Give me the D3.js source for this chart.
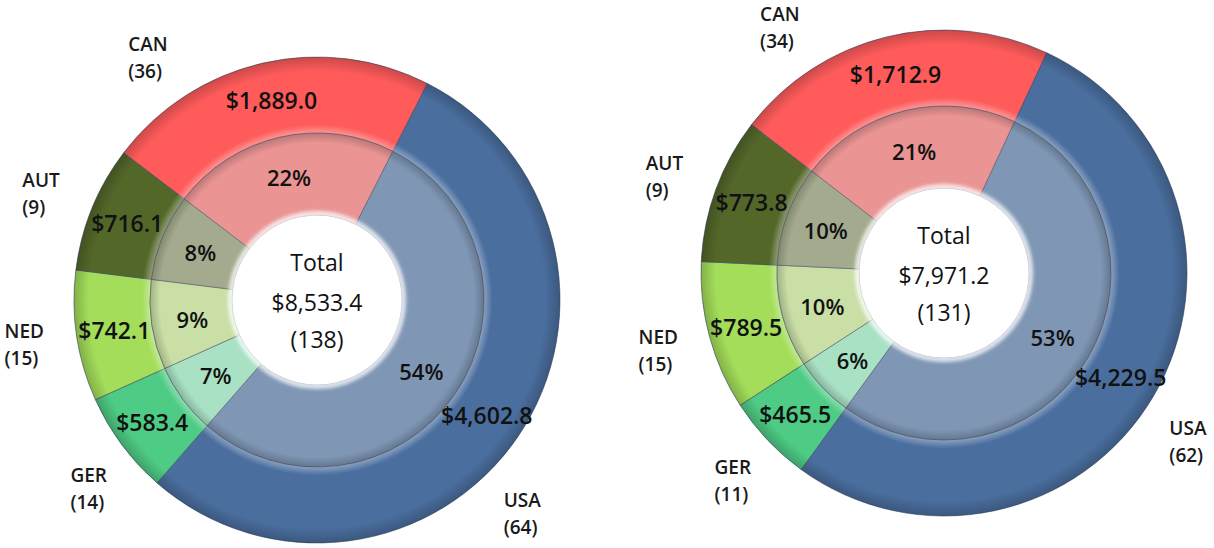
<!DOCTYPE html>
<html>
<head>
<meta charset="utf-8">
<script src="https://cdn.jsdelivr.net/npm/d3@7"></script>
<style>
  body { margin: 0; background: #fff; }
  svg { display: block; font-family: "Open Sans", "Noto Sans", sans-serif; }
</style>
</head>
<body>
<svg id="canvas"></svg>
<script>
// categories, in the order the slices run clockwise
const countries = ["USA", "GER", "NED", "AUT", "CAN"];

// left chart
const salesLeft = [4602.8, 583.4, 742.1, 716.1, 1889.0];
const countsLeft = [64, 14, 15, 9, 36];

// right chart
const salesRight = [4229.5, 465.5, 789.5, 773.8, 1712.9];
const countsRight = [62, 11, 15, 9, 34];

const outerColors = ["#4A6E9E", "#4ECB84", "#A3DD5A", "#536729", "#FF5B5B"];
const innerColors = ["#7F96B5", "#A9E1C4", "#C9DFA6", "#A4AA8D", "#EA9494"];

const W = 1214, H = 548;
const rHole = 85, rMid = 167, rOuter = 243;
const labelR = 296;

const fmtMoney = d3.format("$,.1f");
const fmtPct = d3.format(".0%");

const outerColor = d3.scaleOrdinal().domain(countries).range(outerColors);
const innerColor = d3.scaleOrdinal().domain(countries).range(innerColors);

const svg = d3.select("#canvas").attr("width", W).attr("height", H);
const defs = svg.append("defs");

// soft bevel for each ring: light at the inner edge, darker at the outer edge
function ringGradient(id, r0, r1) {
  const grad = defs.append("radialGradient")
    .attr("id", id)
    .attr("gradientUnits", "userSpaceOnUse")
    .attr("cx", 0).attr("cy", 0).attr("r", r1);
  const a = r0 / r1;
  const stops = [
    [0, "#fff", 0],
    [a, "#fff", 0.35],
    [a + 0.035, "#fff", 0],
    [0.94, "#000", 0],
    [1, "#000", 0.2]
  ];
  grad.selectAll("stop").data(stops).enter().append("stop")
    .attr("offset", d => d[0])
    .attr("stop-color", d => d[1])
    .attr("stop-opacity", d => d[2]);
}
ringGradient("shade-outer", rMid, rOuter);
ringGradient("shade-inner", rHole, rMid);

defs.append("filter").attr("id", "blur")
  .append("feGaussianBlur").attr("stdDeviation", 2);

function drawChart(cx, cy, startDeg, sales, counts, nudges) {
  const data = countries.map((c, i) => ({ country: c, sales: sales[i], count: counts[i], nudge: nudges[i] }));
  const total = d3.sum(sales);
  const totalCount = d3.sum(counts);
  const start = startDeg * Math.PI / 180;

  const pie = d3.pie()
    .value(d => d.sales)
    .sort(null)
    .startAngle(start)
    .endAngle(start + 2 * Math.PI);
  const arcs = pie(data);

  const outerArc = d3.arc().innerRadius(rMid).outerRadius(rOuter);
  const innerArc = d3.arc().innerRadius(rHole).outerRadius(rMid);

  const g = svg.append("g").attr("transform", `translate(${cx},${cy})`);

  // outer ring: sales
  g.append("g").selectAll("path")
    .data(arcs).enter().append("path")
    .attr("d", outerArc)
    .attr("fill", d => outerColor(d.data.country))
    .attr("stroke", "#3a4a66")
    .attr("stroke-opacity", 0.6)
    .attr("stroke-width", 1);
  g.append("g").selectAll("path")
    .data(arcs).enter().append("path")
    .attr("d", outerArc)
    .attr("fill", "url(#shade-outer)");

  // inner ring: share
  g.append("g").selectAll("path")
    .data(arcs).enter().append("path")
    .attr("d", innerArc)
    .attr("fill", d => innerColor(d.data.country))
    .attr("stroke", "#4a5266")
    .attr("stroke-opacity", 0.55)
    .attr("stroke-width", 1);
  g.append("g").selectAll("path")
    .data(arcs).enter().append("path")
    .attr("d", innerArc)
    .attr("fill", "url(#shade-inner)");

  // glow round the hole
  g.append("circle")
    .attr("r", rHole + 1)
    .attr("fill", "none")
    .attr("stroke", "#fff")
    .attr("stroke-width", 5)
    .attr("opacity", 0.8)
    .attr("filter", "url(#blur)");
  g.append("circle").attr("r", rHole - 1).attr("fill", "#fff");

  // sales values on the outer ring
  g.append("g").selectAll("text")
    .data(arcs).enter().append("text")
    .attr("transform", d => `translate(${outerArc.centroid(d)})`)
    .attr("text-anchor", "middle")
    .attr("dominant-baseline", "central")
    .attr("font-size", 23)
    .attr("font-weight", 600)
    .attr("fill", "#111")
    .text(d => fmtMoney(d.data.sales));

  // percentages on the inner ring
  g.append("g").selectAll("text")
    .data(arcs).enter().append("text")
    .attr("transform", d => `translate(${innerArc.centroid(d)})`)
    .attr("text-anchor", "middle")
    .attr("dominant-baseline", "central")
    .attr("font-size", 22)
    .attr("font-weight", 600)
    .attr("fill", "#111")
    .text(d => fmtPct(d.data.sales / total));

  // country labels outside
  const labels = g.append("g").selectAll("g")
    .data(arcs).enter().append("g");
  labels.append("text")
    .attr("y", -13)
    .text(d => d.data.country);
  labels.append("text")
    .attr("y", 14)
    .text(d => `(${d.data.count})`);
  labels.selectAll("text")
    .attr("dominant-baseline", "central")
    .attr("font-size", 19)
    .attr("font-weight", 600)
    .attr("fill", "#1a1a1a");
  labels.attr("transform", function (d) {
    const a = (d.startAngle + d.endAngle) / 2 + d.data.nudge * Math.PI / 180;
    const w = d3.max(d3.select(this).selectAll("text").nodes(), n => n.getComputedTextLength());
    const x = labelR * Math.sin(a) - w / 2;
    const y = -labelR * Math.cos(a);
    return `translate(${x},${y})`;
  });

  // total in the middle
  const centre = g.append("g")
    .attr("text-anchor", "middle")
    .attr("font-size", 23)
    .attr("fill", "#111");
  centre.append("text").attr("y", -38).attr("dominant-baseline", "central").text("Total");
  centre.append("text").attr("y", 2).attr("dominant-baseline", "central").text(fmtMoney(total));
  centre.append("text").attr("y", 39).attr("dominant-baseline", "central").text(`(${totalCount})`);
}

// label nudges (degrees) for the labels that sit off their slice's middle
drawChart(317, 300, 27, salesLeft, countsLeft, [12, -3, 0, -1, -22]);
drawChart(944, 273, 25, salesRight, countsRight, [4, -1, 0, -1, -20]);
</script>
</body>
</html>
